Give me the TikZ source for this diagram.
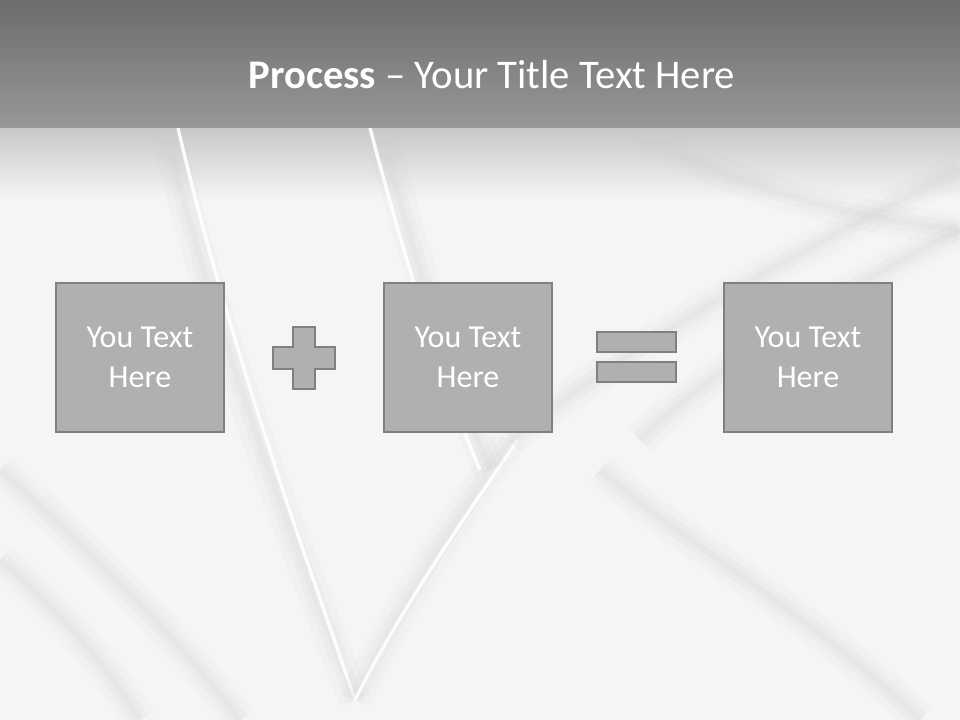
\documentclass[tikz,border=0pt]{standalone}
\usepackage{fontspec}
\setmainfont{Carlito}
\usetikzlibrary{positioning}

\definecolor{silk}{HTML}{F5F5F5}
\definecolor{fold}{HTML}{CFCFCF}
\definecolor{bandtop}{HTML}{6C6C6C}
\definecolor{bandbot}{HTML}{989898}
\definecolor{shadow}{HTML}{C8C8C8}
\definecolor{boxfill}{HTML}{B0B0B0}
\definecolor{boxline}{HTML}{808080}

\begin{document}
\begin{tikzpicture}[
  x=0.75pt, y=-0.75pt,
  box/.style={draw=boxline, fill=boxfill, line width=1.8pt,
              minimum width=126pt, minimum height=112pt,
              align=center, text=white, font=\fontsize{24}{30}\selectfont},
  sign/.style={draw=boxline, fill=boxfill, line width=1.8pt},
  crease/.style={draw=fold, line width=5pt, opacity=0.14,
                 preaction={draw=fold, line width=13pt, opacity=0.12},
                 preaction={draw=fold, line width=24pt, opacity=0.10}},
  sheen/.style={draw=white, line width=2.5pt, opacity=0.9}
]
\useasboundingbox (0,0) rectangle (960,720);

% Silk background, the band's shadow, then a few soft folds.
\fill[silk] (0,0) rectangle (960,720);
\shade[top color=shadow, bottom color=silk] (0,128) rectangle (960,200);
\draw[crease] (165,128) .. controls (220,350) and (300,560) .. (355,700);
\draw[sheen]  (178,128) .. controls (230,350) and (307,560) .. (355,700);
\draw[crease] (355,700) .. controls (400,600) and (470,500) .. (510,440);
\draw[sheen]  (355,700) .. controls (405,600) and (477,500) .. (518,440);
\draw[crease] (510,440) .. controls (650,330) and (820,240) .. (960,170);
\draw[crease] (380,128) .. controls (420,280) and (460,400) .. (490,470);
\draw[sheen]  (370,128) .. controls (410,280) and (450,400) .. (480,470);
\draw[crease] (960,230) .. controls (820,300) and (700,380) .. (640,440);
\draw[crease] (600,470) .. controls (680,540) and (820,620) .. (920,720);
\draw[crease] (0,470) .. controls (80,540) and (180,640) .. (240,720);
\draw[crease] (0,560) .. controls (60,610) and (110,670) .. (140,720);
\draw[crease] (640,135) .. controls (760,200) and (880,220) .. (960,230);

% Title band.
\shade[top color=bandtop, bottom color=bandbot] (0,0) rectangle (960,128);
\node[text=white, font=\fontsize{30.5}{36}\selectfont] (title) at (492,75)
  {\textbf{Process} -- Your Title Text Here};

% Process row: three boxes.
\node[box] (first) at (140,357.5) {You Text\\Here};
\node[box] (second) at (468,357.5) {You Text\\Here};
\node[box] (result) at (808,357.5) {You Text\\Here};

% Plus sign between the first two boxes.
\draw[sign] (293,327) -- (315,327) -- (315,347) -- (335,347) -- (335,369)
  -- (315,369) -- (315,389) -- (293,389) -- (293,369) -- (273,369)
  -- (273,347) -- (293,347) -- cycle;

% Equals sign before the result.
\draw[sign] (597,332) rectangle (676,352);
\draw[sign] (597,362) rectangle (676,382);
\end{tikzpicture}
\end{document}
